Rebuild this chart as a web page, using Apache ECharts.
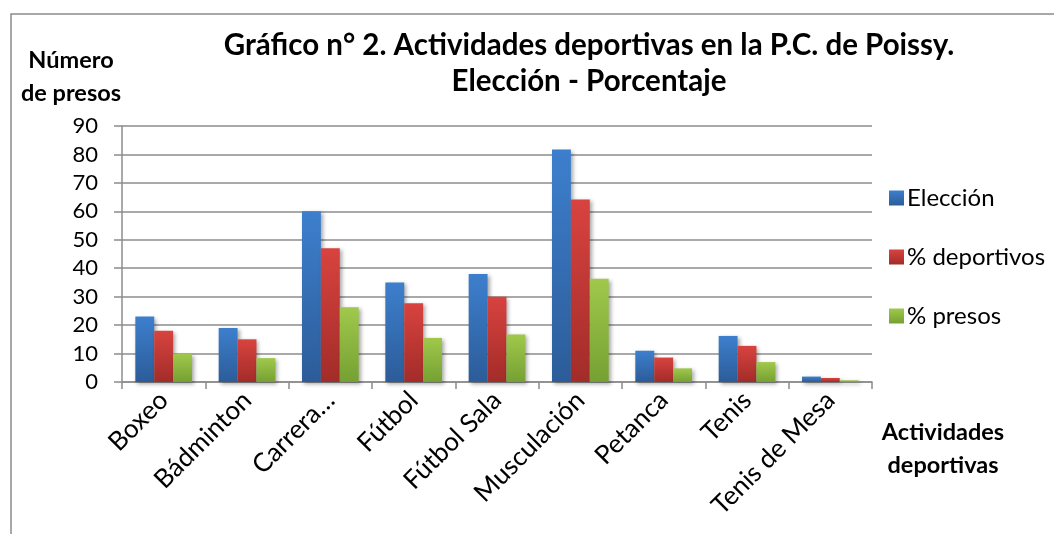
<!DOCTYPE html>
<html><head><meta charset="utf-8">
<script src="https://cdn.jsdelivr.net/npm/echarts@6/dist/echarts.min.js"></script>
<style>html,body{margin:0;padding:0;background:#fff}#c{width:1054px;height:534px}</style>
</head><body><div id="c"></div>
<script>
const categories = ['Boxeo','Bádminton','Carrera…','Fútbol','Fútbol Sala','Musculación','Petanca','Tenis','Tenis de Mesa'];
const eleccion = [23, 19, 60, 35, 38, 81.7, 11, 16.2, 1.9];
const deportivos = [18, 15, 47, 27.7, 30, 64.2, 8.6, 12.7, 1.4];
const presos = [10, 8.4, 26.3, 15.5, 16.7, 36.3, 4.8, 7, 0.6];
const yTicks = [0,10,20,30,40,50,60,70,80,90];

const FONT = 'Lato';
function grad(top, bottom){
  return {type:'linear',x:0,y:0,x2:0,y2:1,colorStops:[{offset:0,color:top},{offset:1,color:bottom}]};
}
function barSeries(name, data, c1, c2){
  return {name, type:'bar', data, barGap:'0%', barCategoryGap:'32%',
    itemStyle:{color:grad(c1,c2), shadowColor:'rgba(0,0,0,0.35)', shadowBlur:4, shadowOffsetX:2, shadowOffsetY:2}};
}
const nameStyle = {fontFamily:FONT, fontWeight:'bold', fontSize:23.5, color:'#000', lineHeight:33};
const chart = echarts.init(document.getElementById('c'));
chart.setOption({
  animation:false,
  backgroundColor:'#fff',
  graphic:[{type:'rect', shape:{x:11,y:14,width:1100,height:600}, style:{fill:'none', stroke:'#8c8c8c', lineWidth:1.5}, silent:true}],
  title:[
    {text:'Gráfico n° 2. Actividades deportivas en la P.C. de Poissy.\nElección - Porcentaje', left:584, top:22, textAlign:'center',
      textStyle:{fontFamily:FONT, fontWeight:'bold', fontSize:29.5, color:'#000', lineHeight:36}},
    {text:'Número\nde presos', left:71, top:44, textAlign:'center', padding:0, textStyle:nameStyle},
    {text:'Actividades\ndeportivas', left:943, top:416, textAlign:'center', padding:0, textStyle:nameStyle}
  ],
  legend:{orient:'vertical', left:884, top:181, itemGap:35, itemWidth:15, itemHeight:15,
    icon:'rect', textStyle:{fontFamily:FONT, fontSize:24, color:'#000', padding:[0,0,0,-2]},
    data:['Elección','% deportivos','% presos']},
  grid:{left:122, right:182, top:126, bottom:152, containLabel:false, outerBoundsMode:'none'},
  xAxis:{type:'category', data:categories,
    axisLine:{lineStyle:{color:'#8c8c8c', width:1.5}},
    axisTick:{show:true, length:7, lineStyle:{color:'#8c8c8c', width:1.5}},
    axisLabel:{rotate:45, interval:0, margin:14, fontFamily:FONT, fontSize:26, color:'#000'}},
  yAxis:{type:'value', min:0, max:90, interval:10,
    axisLine:{show:true, lineStyle:{color:'#8c8c8c', width:1.5}},
    axisTick:{show:true, length:8, lineStyle:{color:'#8c8c8c', width:1.5}},
    splitLine:{lineStyle:{color:'#8c8c8c', width:1.5}},
    axisLabel:{margin:24, fontFamily:FONT, fontSize:22, color:'#000',
      formatter:v => yTicks.includes(v) ? String(v) : ''}},
  series:[
    barSeries('Elección', eleccion, '#3d7fcd', '#2c5c99'),
    barSeries('% deportivos', deportivos, '#d8433f', '#a22c29'),
    barSeries('% presos', presos, '#a0c84c', '#75a132')
  ]
});
</script></body></html>
